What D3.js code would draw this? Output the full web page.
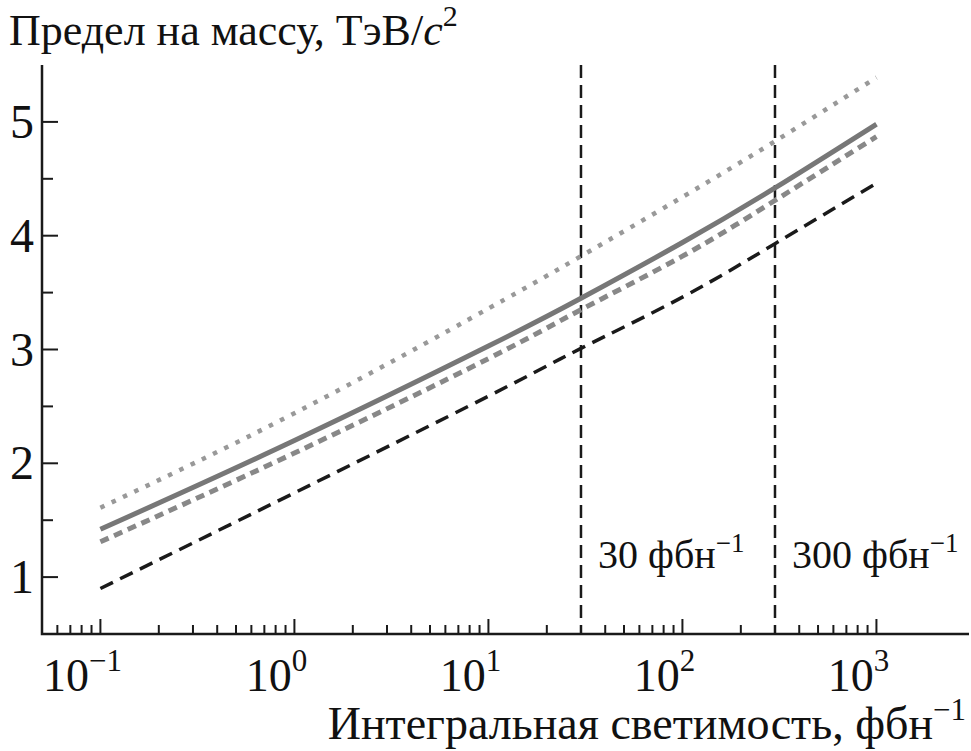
<html>
<head>
  <meta charset="utf-8">
  <title>Предел на массу</title>
  <script src="https://cdn.jsdelivr.net/npm/d3@7"></script>
  <style>
    body { margin: 0; background: #fff; }
  </style>
</head>
<body>
  <script>

    var width = 971,
        height = 751;

    // luminosity points, fb^-1
    var lumi = [0.1, 1, 10, 30, 100, 300, 1000];

    // mass limits, TeV/c^2
    var dotted = [1.61, 2.44, 3.36, 3.82, 4.34, 4.83, 5.39];
    var solid = [1.42, 2.20, 3.03, 3.45, 3.94, 4.42, 4.98];
    var grayDash = [1.31, 2.09, 2.92, 3.35, 3.82, 4.31, 4.87];
    var blackDash = [0.90, 1.74, 2.59, 3.01, 3.46, 3.93, 4.46];

    var markers = [30, 300];
    var markerLabels = ['30 фбн', '300 фбн'];

    var xMajor = [0.1, 1, 10, 100, 1000];
    var xExp = ['−1', '0', '1', '2', '3'];
    var yMajor = [1, 2, 3, 4, 5];
    var yMinor = [1.5, 2.5, 3.5, 4.5];

    var plotLeft = 42, plotRight = 969, plotTop = 65, plotBottom = 634;
    var serif = "'Liberation Serif'";

    var svg = d3.select('body')
      .append('svg')
      .attr('width', width)
      .attr('height', height);

    var x = d3.scaleLog()
      .domain([0.05, 3000])
      .range([plotLeft, plotRight]);

    var y = d3.scaleLinear()
      .domain([0.5, 5.5])
      .range([plotBottom, plotTop]);

    // minor x ticks
    var xMinor = [];
    [0.01, 0.1, 1, 10, 100].forEach(function(dec) {
      for (var k = 2; k <= 9; k++) {
        var v = dec * k;
        if (v > 0.05 && v < 1000) xMinor.push(v);
      }
    });

    var axes = svg.append('g')
      .attr('stroke', '#1a1a1a');

    axes.selectAll('.xminor')
      .data(xMinor)
      .enter()
      .append('line')
      .attr('x1', (d) => x(d)).attr('x2', (d) => x(d))
      .attr('y1', plotBottom).attr('y2', plotBottom - 9)
      .attr('stroke-width', 2);

    axes.selectAll('.xmajor')
      .data(xMajor)
      .enter()
      .append('line')
      .attr('x1', (d) => x(d)).attr('x2', (d) => x(d))
      .attr('y1', plotBottom).attr('y2', plotBottom - 15)
      .attr('stroke-width', 2);

    axes.selectAll('.ymajor')
      .data(yMajor)
      .enter()
      .append('line')
      .attr('x1', plotLeft).attr('x2', plotLeft + 16)
      .attr('y1', (d) => y(d)).attr('y2', (d) => y(d))
      .attr('stroke-width', 2);

    axes.selectAll('.yminor')
      .data(yMinor)
      .enter()
      .append('line')
      .attr('x1', plotLeft).attr('x2', plotLeft + 11)
      .attr('y1', (d) => y(d)).attr('y2', (d) => y(d))
      .attr('stroke-width', 2);

    axes.append('path')
      .attr('d', 'M' + plotLeft + ',' + plotTop + 'V' + plotBottom + 'H' + plotRight)
      .attr('fill', 'none')
      .attr('stroke-width', 2.5);

    // vertical luminosity markers
    svg.selectAll('.marker')
      .data(markers)
      .enter()
      .append('line')
      .attr('x1', (d) => x(d)).attr('x2', (d) => x(d))
      .attr('y1', plotTop).attr('y2', plotBottom)
      .attr('stroke', '#1a1a1a')
      .attr('stroke-width', 2.5)
      .attr('stroke-dasharray', '13,7');

    var line = d3.line()
      .x((d, i) => x(lumi[i]))
      .y((d) => y(d))
      .curve(d3.curveNatural);

    svg.append('path')
      .attr('d', line(blackDash))
      .attr('fill', 'none')
      .attr('stroke', '#1a1a1a')
      .attr('stroke-width', 3.5)
      .attr('stroke-dasharray', '14,8');

    svg.append('path')
      .attr('d', line(grayDash))
      .attr('fill', 'none')
      .attr('stroke', '#888')
      .attr('stroke-width', 5)
      .attr('stroke-dasharray', '9,6');

    svg.append('path')
      .attr('d', line(solid))
      .attr('fill', 'none')
      .attr('stroke', '#777')
      .attr('stroke-width', 5);

    svg.append('path')
      .attr('d', line(dotted))
      .attr('fill', 'none')
      .attr('stroke', '#999')
      .attr('stroke-width', 4.5)
      .attr('stroke-dasharray', '4.5,8');

    // tick labels
    svg.selectAll('.ylab')
      .data(yMajor)
      .enter()
      .append('text')
      .attr('x', 34)
      .attr('y', (d) => y(d) + 16)
      .attr('text-anchor', 'end')
      .style('font-family', serif)
      .style('font-size', '48px')
      .style('fill', '#111')
      .text((d) => d);

    var xl = svg.selectAll('.xlab')
      .data(xMajor)
      .enter()
      .append('text')
      .attr('x', (d) => x(d) - 18)
      .attr('y', 691)
      .attr('text-anchor', 'middle')
      .style('font-family', serif)
      .style('font-size', '46px')
      .style('fill', '#111');
    xl.append('tspan').text('10');
    xl.append('tspan')
      .attr('dy', -20)
      .style('font-size', '31px')
      .text((d, i) => xExp[i]);

    // marker labels
    var ml = svg.selectAll('.mlab')
      .data(markers)
      .enter()
      .append('text')
      .attr('x', (d) => x(d) + 17)
      .attr('y', 568)
      .style('font-family', serif)
      .style('font-size', '40px')
      .style('fill', '#111');
    ml.append('tspan').text((d, i) => markerLabels[i]);
    ml.append('tspan')
      .attr('dy', -16)
      .style('font-size', '27px')
      .text('−1');

    // titles
    var yt = svg.append('text')
      .attr('x', 9)
      .attr('y', 45)
      .style('font-family', serif)
      .style('font-size', '44px')
      .style('fill', '#111');
    yt.append('tspan').text('Предел на массу, ТэВ/');
    yt.append('tspan').style('font-style', 'italic').text('c');
    yt.append('tspan').attr('dy', -19).style('font-size', '30px').text('2');

    var xt = svg.append('text')
      .attr('x', 966)
      .attr('y', 739)
      .attr('text-anchor', 'end')
      .style('font-family', serif)
      .style('font-size', '46px')
      .style('fill', '#111');
    xt.append('tspan').text('Интегральная светимость, фбн');
    xt.append('tspan').attr('dy', -19).style('font-size', '31px').text('−1');

  </script>
</body>
</html>
